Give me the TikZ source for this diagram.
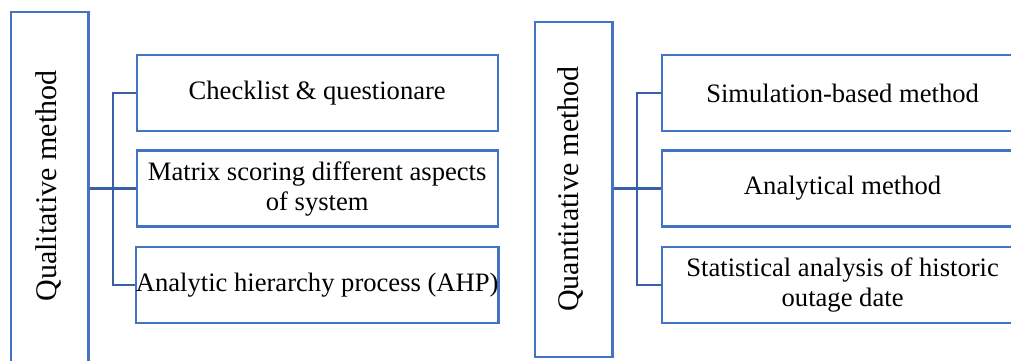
\documentclass[tikz,border=0pt]{standalone}
\usepackage{fontspec}
\setmainfont{Liberation Serif}
\definecolor{boxblue}{HTML}{4472C4}
\definecolor{lineblue}{HTML}{3A5FA8}
\usetikzlibrary{positioning}

\begin{document}
\begin{tikzpicture}[x=0.5pt,y=-0.5pt,
    mainbox/.style={draw=boxblue,line width=1.2pt,inner sep=0pt,
        minimum width=38.8pt},
    kidbox/.style={draw=boxblue,line width=1.2pt,inner sep=0pt,
        minimum width=180.5pt,minimum height=38pt,align=center,
        font=\fontsize{13.3}{15}\selectfont},
    sidetext/.style={rotate=90,font=\fontsize{15}{17}\selectfont},
    link/.style={draw=lineblue,line width=1.1pt}]

\useasboundingbox (0,0) rectangle (1011,360);
\clip (0,0) rectangle (1011,360);

% left group
\node[mainbox,minimum height=180pt] (qual) at (49.5,192) {};
\node[sidetext] (qualtxt) at (48.5,186) {Qualitative method};

\node[kidbox] (check) at (317.2,92.8) {Checklist \& questionare};
\node[kidbox] (matrix) at (317.2,188.5) {Matrix scoring different aspects\\of system};
\node[kidbox] (ahp) at (317.2,285) {Analytic hierarchy process (AHP)};

\coordinate (lbus) at (113.3,0);
\draw[link] (qual.east |- matrix.west) -- (matrix.west);
\draw[link] (check.west) -- (check.west -| lbus) -- (ahp.west -| lbus) -- (ahp.west);

% right group
\node[mainbox,minimum height=167.5pt] (quant) at (573.5,189.2) {};
\node[sidetext] (quanttxt) at (571,189) {Quantitative method};

\node[kidbox] (simul) at (842.6,93) {Simulation-based method};
\node[kidbox] (analyt) at (842.6,188.5) {Analytical method};
\node[kidbox] (stats) at (842.6,285.2) {Statistical analysis of historic\\outage date};

\coordinate (rbus) at (637.3,0);
\draw[link] (quant.east |- analyt.west) -- (analyt.west);
\draw[link] (simul.west) -- (simul.west -| rbus) -- (stats.west -| rbus) -- (stats.west);

\end{tikzpicture}
\end{document}
